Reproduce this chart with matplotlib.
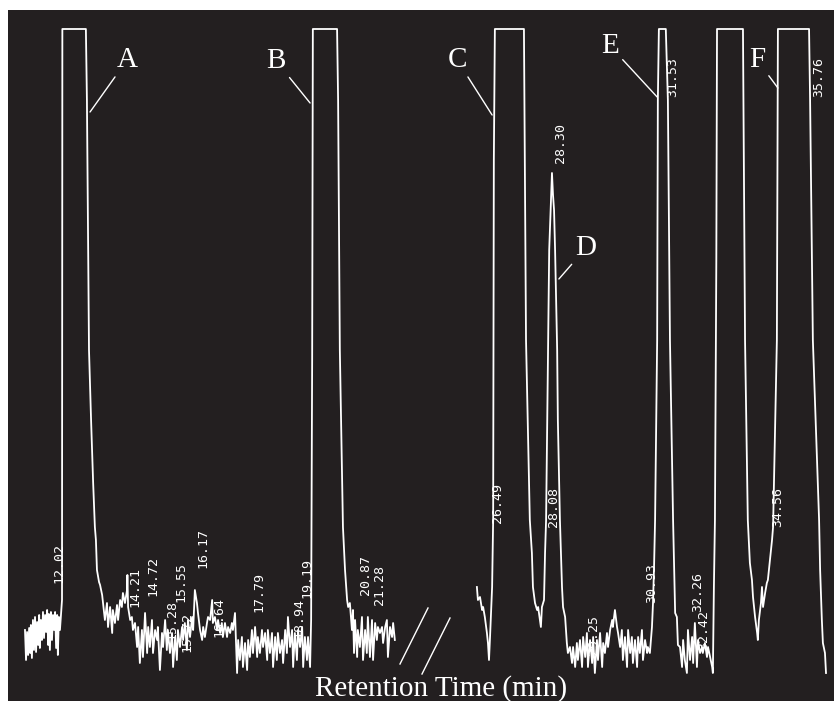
import matplotlib
matplotlib.use("Agg")
import matplotlib.pyplot as plt
from matplotlib.lines import Line2D

# chromatogram, first window (retention time in min, detector response)
t_left = [10.95, 10.98, 11.01, 11.04, 11.07, 11.10, 11.12, 11.15, 11.18, 11.21,
          11.24, 11.27, 11.30, 11.33, 11.36, 11.38, 11.41, 11.44, 11.47, 11.50,
          11.53, 11.56, 11.59, 11.62, 11.64, 11.67, 11.70, 11.73, 11.76, 11.79,
          11.82, 11.85, 11.88, 11.90, 11.93, 11.96, 11.99, 12.02, 12.03, 12.71,
          12.74, 12.80, 12.86, 12.92, 12.97, 13.00, 13.03, 13.09, 13.12, 13.18,
          13.26, 13.32, 13.35, 13.41, 13.47, 13.49, 13.55, 13.61, 13.64, 13.70,
          13.75, 13.78, 13.84, 13.90, 13.91, 13.93, 13.99, 14.04, 14.07, 14.13,
          14.19, 14.22, 14.27, 14.33, 14.36, 14.42, 14.48, 14.51, 14.56, 14.62,
          14.65, 14.71, 14.77, 14.79, 14.85, 14.91, 14.94, 15.00, 15.05, 15.08,
          15.14, 15.20, 15.23, 15.29, 15.34, 15.37, 15.43, 15.49, 15.52, 15.57,
          15.63, 15.66, 15.72, 15.78, 15.81, 15.86, 15.92, 15.95, 16.01, 16.07,
          16.10, 16.15, 16.21, 16.24, 16.30, 16.36, 16.38, 16.44, 16.50, 16.53,
          16.59, 16.64, 16.67, 16.73, 16.79, 16.82, 16.88, 16.93, 16.96, 17.02,
          17.08, 17.11, 17.16, 17.22, 17.25, 17.31, 17.37, 17.40, 17.45, 17.51,
          17.54, 17.60, 17.66, 17.68, 17.74, 17.80, 17.83, 17.89, 17.95, 17.97,
          18.03, 18.09, 18.12, 18.18, 18.23, 18.26, 18.32, 18.38, 18.41, 18.47,
          18.52, 18.55, 18.61, 18.67, 18.70, 18.75, 18.81, 18.84, 18.90, 18.96,
          18.99, 19.04, 19.10, 19.13, 19.19, 19.22, 19.25, 19.27, 19.97, 20.00,
          20.05, 20.14, 20.20, 20.26, 20.29, 20.34, 20.40, 20.43, 20.46, 20.49,
          20.55, 20.57, 20.63, 20.69, 20.72, 20.78, 20.83, 20.86, 20.92, 20.98,
          21.01, 21.07, 21.12, 21.15, 21.21, 21.27, 21.30, 21.36, 21.41, 21.44,
          21.50, 21.56, 21.59, 21.64]
r_left = [30, 0, 28, 5, 32, 7, 35, 2, 40, 10,
          43, 8, 38, 15, 45, 12, 40, 20, 48, 22,
          45, 28, 50, 15, 46, 10, 48, 20, 45, 30,
          48, 12, 45, 5, 43, 30, 45, 60, 631, 631,
          560, 310, 240, 177, 133, 120, 90, 78, 75, 65,
          40, 57, 33, 53, 27, 50, 37, 55, 40, 60,
          53, 67, 57, 70, 85, 53, 40, 43, 30, 37,
          13, 33, -3, 30, 3, 47, 7, 33, 13, 40,
          7, 30, 20, 33, -10, 27, 13, 40, 10, 30,
          7, 27, -7, 23, 0, 30, 13, 33, 20, 37,
          10, 40, 23, 43, 30, 70, 57, 47, 30, 20,
          33, 23, 37, 43, 40, 60, 37, 43, 30, 40,
          27, 37, 23, 37, 23, 33, 27, 37, 30, 47,
          -13, 20, 0, 23, -7, 17, -10, 20, 3, 30,
          7, 33, 3, 23, 7, 30, 13, 27, 0, 30,
          7, 27, -7, 23, 0, 27, 7, 20, -3, 30,
          7, 43, 13, 30, -7, 27, 0, 30, 13, 33,
          -7, 23, 0, 23, -7, 40, 300, 631, 631, 560,
          310, 133, 90, 60, 53, 57, 30, 50, 7, 40,
          3, 30, 13, 43, 0, 30, 7, 43, 3, 40,
          0, 37, 20, 33, 27, 33, 17, 33, 40, 3,
          33, 23, 37, 20]

# second window
t_right = [25.88, 25.91, 25.97, 26.03, 26.06, 26.11, 26.17, 26.20, 26.23, 26.26,
           26.32, 26.35, 26.37, 26.40, 27.24, 27.30, 27.41, 27.47, 27.50, 27.56,
           27.62, 27.65, 27.70, 27.73, 27.76, 27.82, 27.85, 27.88, 27.94, 27.97,
           28.02, 28.05, 28.08, 28.11, 28.14, 28.20, 28.22, 28.28, 28.34, 28.37,
           28.43, 28.48, 28.51, 28.57, 28.63, 28.66, 28.72, 28.77, 28.80, 28.86,
           28.92, 28.95, 29.01, 29.06, 29.09, 29.15, 29.21, 29.24, 29.29, 29.35,
           29.38, 29.44, 29.50, 29.53, 29.58, 29.64, 29.67, 29.73, 29.79, 29.81,
           29.87, 29.93, 29.96, 30.02, 30.07, 30.10, 30.16, 30.22, 30.25, 30.31,
           30.36, 30.39, 30.45, 30.51, 30.54, 30.59, 30.65, 30.68, 30.74, 30.80,
           30.82, 30.88, 30.94, 30.97, 31.00, 31.03, 31.09, 31.11, 31.14, 31.34,
           31.40, 31.46, 31.55, 31.61, 31.66, 31.69, 31.75, 31.81, 31.84, 31.89,
           31.95, 31.98, 32.04, 32.10, 32.13, 32.18, 32.24, 32.27, 32.33, 32.39,
           32.41, 32.47, 32.53, 32.56, 32.62, 32.68, 32.70, 32.73, 32.76, 32.80,
           32.82, 33.57, 33.63, 33.71, 33.77, 33.83, 33.86, 33.92, 33.98, 34.00,
           34.03, 34.09, 34.12, 34.15, 34.21, 34.26, 34.29, 34.35, 34.41, 34.44,
           34.55, 34.58, 35.48, 35.51, 35.59, 35.71, 35.77, 35.80, 35.85, 35.88,
           35.94, 35.97]
r_right = [73, 60, 63, 50, 53, 43, 27, 17, 0, 23,
           73, 140, 500, 631, 631, 320, 140, 107, 73, 57,
           50, 53, 40, 33, 53, 60, 107, 140, 320, 410,
           460, 487, 465, 450, 410, 310, 240, 140, 73, 53,
           43, 17, 7, 13, -3, 13, -7, 17, 0, 20,
           -7, 23, 3, 27, -7, 20, -3, 23, -13, 20,
           0, 27, -7, 17, 7, 27, 13, 30, 40, 33,
           50, 33, 27, 13, 30, 0, 23, -7, 30, 7,
           23, -3, 20, -7, 23, 7, 30, 0, 20, 7,
           13, 7, 33, 57, 93, 140, 320, 560, 631, 631,
           560, 320, 140, 47, 43, 15, 13, -7, 20, 0,
           -13, 30, 0, 23, -3, 37, -7, 20, 7, 13,
           7, 17, 3, 13, 3, -7, -13, 73, 140, 400,
           631, 631, 320, 140, 97, 80, 63, 43, 27, 20,
           40, 57, 73, 53, 67, 77, 80, 100, 120, 133,
           320, 631, 631, 560, 320, 200, 140, 90, 40, 17,
           7, -13]

# integrator retention-time labels and the height where each is printed
rt_left = [12.02, 14.21, 14.72, 15.28, 15.55, 15.72, 16.17, 16.64, 17.79, 18.94, 19.19, 20.87, 21.28]
rt_left_y = [77, 53, 64, 20, 58, 8, 92, 23, 48, 22, 62, 65, 55]
rt_right = [26.49, 28.08, 28.30, 29.25, 30.93, 31.53, 32.26, 32.42, 34.56, 35.76]
rt_right_y = [137, 133, 497, 5, 57, 563, 48, 10, 133, 563]

# peak letters: (letter, peak point, text point)
peak_names = ["A", "B", "C", "D", "E", "F"]
peak_xy = [(12.83, 548), (19.19, 557), (26.32, 545), (28.25, 381), (31.09, 563), (34.58, 572)]
peak_text = [(13.90, 603), (18.21, 602), (25.31, 603), (29.03, 415), (29.73, 617), (33.98, 603)]

bg = "#231f20"
W, H = 834, 701
fig = plt.figure(figsize=(W / 100, H / 100), dpi=100, facecolor="white")

panel = fig.add_axes([8 / W, 0, 826 / W, 691 / H])
panel.set_facecolor(bg)
panel.set_xticks([])
panel.set_yticks([])
for s in panel.spines.values():
    s.set_visible(False)

ax1 = fig.add_axes([8 / W, 0, 432 / W, 691 / H])
ax2 = fig.add_axes([440 / W, 0, 394 / W, 691 / H])
ax1.set_xlim(10.459, 22.945)
ax2.set_xlim(24.814, 36.201)
for ax in (ax1, ax2):
    ax.set_ylim(-41, 650)
    ax.axis("off")

ax1.plot(t_left, r_left, color="white", lw=1.3)
ax2.plot(t_right, r_right, color="white", lw=1.3)

# labels on the first window print a little left of the peak time
for ax, times, ys, dx in ((ax1, rt_left, rt_left_y, -0.08), (ax2, rt_right, rt_right_y, 0.0)):
    for t, y in zip(times, ys):
        ax.text(t + dx, y, f"{t:.2f}", rotation=90, ha="center", va="bottom",
                color="white", fontsize=9.5, family="DejaVu Sans Mono")

for name, xy, xt in zip(peak_names, peak_xy, peak_text):
    ax = ax1 if xy[0] < 23 else ax2
    ax.annotate(name, xy=xy, xytext=xt, ha="center", va="center_baseline",
                color="white", fontsize=21, family="Liberation Serif",
                arrowprops=dict(arrowstyle="-", color="white", lw=1.0,
                                shrinkA=1, shrinkB=0))

# axis break marks
for (x0, y0), (x1, y1) in (((400, 664), (428, 608)), ((422, 674), (450, 618))):
    fig.add_artist(Line2D([x0 / W, x1 / W], [1 - y0 / H, 1 - y1 / H],
                          transform=fig.transFigure, color="white", lw=1.0))

fig.text(441 / W, 1 - 696 / H, "Retention Time (min)", ha="center", va="baseline",
         color="white", fontsize=21, family="Liberation Serif")

fig.savefig("out.png", dpi=100, facecolor="white")
